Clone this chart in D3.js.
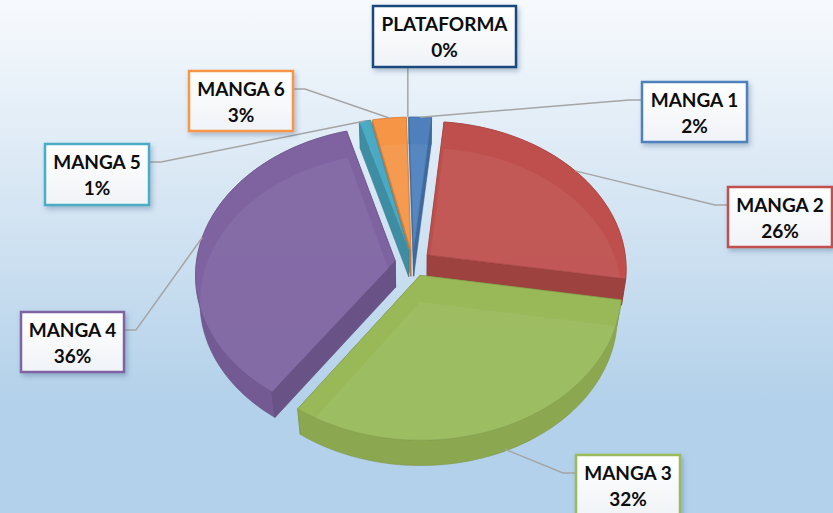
<!DOCTYPE html>
<html>
<head>
<meta charset="utf-8">
<script src="https://cdn.jsdelivr.net/npm/d3@7"></script>
<style>
  html, body { margin: 0; padding: 0; overflow: hidden; }
  #chart svg { display: block; }
</style>
</head>
<body>
<div id="chart"></div>
<script>
// data
var categories = ["PLATAFORMA", "MANGA 1", "MANGA 2", "MANGA 3", "MANGA 4", "MANGA 5", "MANGA 6"];
var values = [0, 2, 26, 32, 36, 1, 3];
var sliceColors = ["#1f497d", "#4f81bd", "#c0504d", "#9bbb59", "#8064a2", "#4bacc6", "#f79646"];

// label boxes (layout only): x, y, width, height, side the leader leaves from
var labelBoxes = [
  { x: 373, y: 6, w: 143, h: 61, side: "bottom" },
  { x: 642, y: 82, w: 105, h: 60, side: "left" },
  { x: 728, y: 187, w: 104, h: 60, side: "left" },
  { x: 576, y: 455, w: 104, h: 62, side: "left" },
  { x: 21, y: 312, w: 103, h: 60, side: "right" },
  { x: 45, y: 144, w: 104, h: 61, side: "right" },
  { x: 189, y: 71, w: 104, h: 60, side: "right" }
];

var width = 833, height = 513;

// 3d pie setup
var cx = 413, cy = 263;      // screen centre of the top face
var R = 199;                 // radius in world units
var depth = 40;              // thickness
var explode = 18;            // distance each slice is pulled out
var tilt = Math.asin(0.74);  // viewing angle
var camDist = 1450;          // perspective distance
var firstAngle = -1.5 * Math.PI / 180;

var svg = d3.select("#chart").append("svg")
  .attr("width", width)
  .attr("height", height);

var defs = svg.append("defs");

var bg = defs.append("linearGradient").attr("id", "bg")
  .attr("x1", 0).attr("y1", 0).attr("x2", 0).attr("y2", 1);
bg.append("stop").attr("offset", "0%").attr("stop-color", "#f7fafd");
bg.append("stop").attr("offset", "40%").attr("stop-color", "#d5e5f3");
bg.append("stop").attr("offset", "78%").attr("stop-color", "#b3d1ea");
bg.append("stop").attr("offset", "100%").attr("stop-color", "#b3d1ea");

var boxFill = defs.append("linearGradient").attr("id", "boxFill")
  .attr("x1", 0).attr("y1", 0).attr("x2", 0).attr("y2", 1);
boxFill.append("stop").attr("offset", "0%").attr("stop-color", "#ffffff");
boxFill.append("stop").attr("offset", "100%").attr("stop-color", "#f0f3f7");

var shadow = defs.append("filter").attr("id", "shadow")
  .attr("x", "-20%").attr("y", "-20%").attr("width", "150%").attr("height", "150%");
shadow.append("feDropShadow")
  .attr("dx", 2).attr("dy", 3).attr("stdDeviation", 2.5)
  .attr("flood-color", "#3a5a80").attr("flood-opacity", 0.35);

svg.append("rect")
  .attr("width", width)
  .attr("height", height)
  .attr("fill", "url(#bg)");

var total = d3.sum(values);
var pct = d3.format(".0%");

var pie = d3.pie().sort(null)
  .startAngle(firstAngle)
  .endAngle(firstAngle + 2 * Math.PI)
  .value(function (d) { return d; });
var arcs = pie(values);

// project a world point to the screen (tilted view with a bit of perspective)
function project(X, Y, Z) {
  var yv = Y * Math.cos(tilt) + Z * Math.sin(tilt);
  var zv = -Y * Math.sin(tilt) + Z * Math.cos(tilt);
  var s = camDist / (camDist + zv);
  return { x: cx + X * s, y: cy - yv * s, z: zv };
}

function slicePoint(d, angle, r, level) {
  var mid = (d.startAngle + d.endAngle) / 2;
  var ox = explode * Math.sin(mid), oz = explode * Math.cos(mid);
  return project(ox + r * Math.sin(angle), level, oz + r * Math.cos(angle));
}

function arcPoints(d, a0, a1, level) {
  var n = Math.max(2, Math.ceil(Math.abs(a1 - a0) / 0.02));
  return d3.range(n + 1).map(function (i) {
    return slicePoint(d, a0 + (a1 - a0) * i / n, R, level);
  });
}

var line = d3.line().x(function (p) { return p.x; }).y(function (p) { return p.y; });

// collect the walls of every slice and paint from back to front
var walls = [];
arcs.forEach(function (d, i) {
  if (d.endAngle - d.startAngle <= 0) return;
  var c = d3.color(sliceColors[i]);
  [d.startAngle, d.endAngle].forEach(function (a) {
    var pts = [
      slicePoint(d, a, 0, 0), slicePoint(d, a, R, 0),
      slicePoint(d, a, R, -depth), slicePoint(d, a, 0, -depth)
    ];
    walls.push({ pts: pts, fill: c.darker(0.55), z: d3.mean(pts, function (p) { return p.z; }) });
  });
  var top = arcPoints(d, d.startAngle, d.endAngle, 0);
  var bot = arcPoints(d, d.startAngle, d.endAngle, -depth).reverse();
  var outer = top.concat(bot);
  walls.push({ pts: outer, fill: c.darker(0.3), z: d3.mean(outer, function (p) { return p.z; }) });
});
walls.sort(function (a, b) { return b.z - a.z; });

var pieG = svg.append("g");

pieG.selectAll("path.wall")
  .data(walls)
  .enter()
  .append("path")
  .attr("class", "wall")
  .attr("d", function (w) { return line(w.pts) + "Z"; })
  .attr("fill", function (w) { return w.fill; })
  .attr("stroke", function (w) { return d3.color(w.fill).darker(0.3); })
  .attr("stroke-width", 0.6)
  .attr("stroke-linejoin", "round");

// top faces, slightly see-through like the original
pieG.selectAll("path.top")
  .data(arcs.filter(function (d) { return d.endAngle > d.startAngle; }))
  .enter()
  .append("path")
  .attr("class", "top")
  .attr("d", function (d) {
    var pts = [slicePoint(d, 0, 0, 0)].concat(arcPoints(d, d.startAngle, d.endAngle, 0));
    return line(pts) + "Z";
  })
  .attr("fill", function (d) { return sliceColors[d.index]; })
  .attr("fill-opacity", 0.94)
  .attr("stroke", function (d) { return d3.color(sliceColors[d.index]).darker(0.4); })
  .attr("stroke-width", 0.6)
  .attr("stroke-linejoin", "round");

// leader lines
function anchorOf(d) {
  var mid = (d.startAngle + d.endAngle) / 2;
  var level = -depth * Math.max(0, -Math.cos(mid));
  return slicePoint(d, mid, R, level);
}

var leaders = svg.append("g");
arcs.forEach(function (d, i) {
  var b = labelBoxes[i];
  var a = anchorOf(d);
  var pts;
  if (b.side === "bottom") {
    pts = [[a.x, b.y + b.h], [a.x, a.y]];
  } else if (b.side === "left") {
    pts = [[b.x, b.y + 18], [b.x - 13, b.y + 18], [a.x, a.y]];
  } else {
    pts = [[b.x + b.w, b.y + 18], [b.x + b.w + 12, b.y + 18], [a.x, a.y]];
  }
  leaders.append("path")
    .attr("d", d3.line()(pts))
    .attr("fill", "none")
    .attr("stroke", "#a5a5a5")
    .attr("stroke-width", 1.5);
});

// label boxes
var labels = svg.selectAll("g.label")
  .data(arcs)
  .enter()
  .append("g")
  .attr("class", "label")
  .attr("transform", function (d, i) {
    return "translate(" + labelBoxes[i].x + "," + labelBoxes[i].y + ")";
  });

labels.append("rect")
  .attr("width", function (d, i) { return labelBoxes[i].w; })
  .attr("height", function (d, i) { return labelBoxes[i].h; })
  .attr("fill", "url(#boxFill)")
  .attr("stroke", function (d, i) { return sliceColors[i]; })
  .attr("stroke-width", 2.5)
  .attr("filter", "url(#shadow)");

labels.append("text")
  .attr("x", function (d, i) { return labelBoxes[i].w / 2; })
  .attr("y", 25)
  .attr("text-anchor", "middle")
  .style("font-family", "Lato, 'Open Sans', sans-serif")
  .style("font-weight", "bold")
  .style("font-size", "19px")
  .style("fill", "#0d0d0d")
  .text(function (d, i) { return categories[i]; });

labels.append("text")
  .attr("x", function (d, i) { return labelBoxes[i].w / 2; })
  .attr("y", 51)
  .attr("text-anchor", "middle")
  .style("font-family", "Lato, 'Open Sans', sans-serif")
  .style("font-weight", "bold")
  .style("font-size", "19px")
  .style("fill", "#0d0d0d")
  .text(function (d) { return pct(d.value / total); });
</script>
</body>
</html>
